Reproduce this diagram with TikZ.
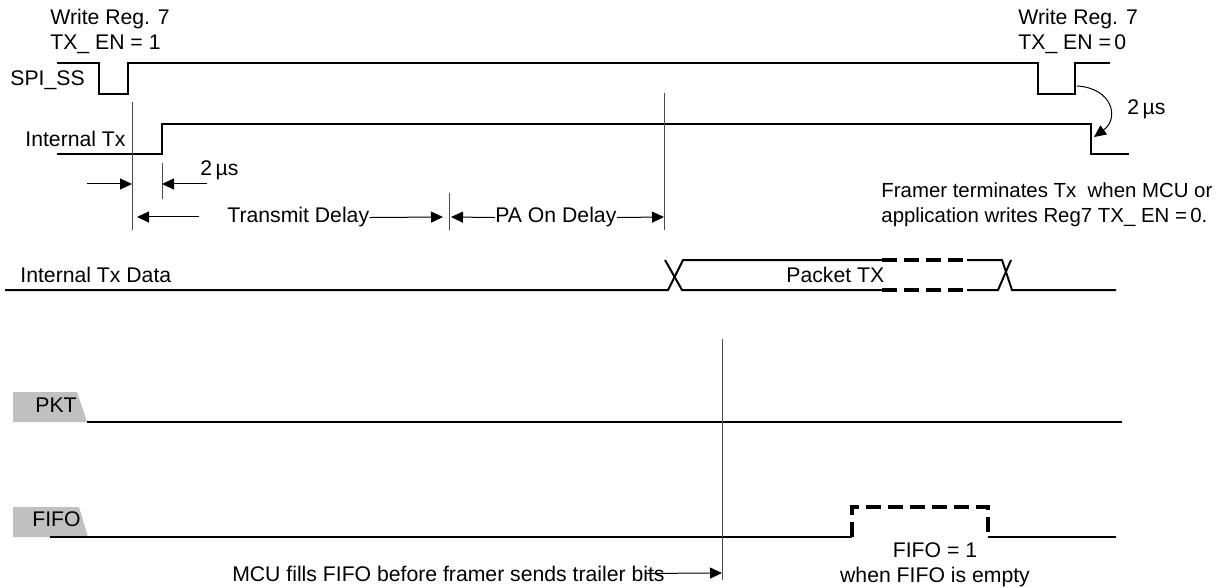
\documentclass[tikz,border=0pt]{standalone}
\usepackage{fontspec}
\setmainfont{Liberation Sans}
\usetikzlibrary{arrows.meta}
\definecolor{tabgray}{RGB}{192,192,192}
\tikzset{
	sig/.style={line width=1pt},
	ghost/.style={line width=1.6pt, dash pattern=on 7.5pt off 3.5pt},
	guide/.style={line width=0.5pt, draw=black!70},
	dim/.style={line width=0.5pt, -{Triangle[length=6pt,width=5.5pt]}},
	lbl/.style={inner sep=0pt, font=\fontsize{10.6}{12.5}\selectfont},
}

\begin{document}
\begin{tikzpicture}[x=0.5pt,y=-0.5pt]
	\useasboundingbox (0,0) rectangle (1225,588);
	
	\coordinate (g1t) at (132,102);
	\coordinate (g1b) at (132,230);
	\coordinate (g2t) at (162,163);
	\coordinate (g2b) at (162,199);
	\coordinate (g3t) at (449,193);
	\coordinate (g3b) at (449,230);
	\coordinate (g4t) at (664,93);
	\coordinate (g4b) at (664,230);
	\coordinate (g5t) at (722,339);
	\coordinate (g5b) at (722,580);
	
	\coordinate (us1l) at (87,184);
	\coordinate (us1a) at (132,184);
	\coordinate (us1r) at (207,184);
	\coordinate (us1b) at (162,184);
	\coordinate (txdl) at (199,217);
	\coordinate (txda) at (137,217);
	\coordinate (txdb) at (443,217);
	\coordinate (pada) at (451,217);
	\coordinate (padb) at (664,217);
	\coordinate (ssup) at (1077,86);
	\coordinate (txoff) at (1094,137);
	\coordinate (mcub) at (722,573);
	
	% tabs
	\fill[tabgray] (13,392) -- (77,392) -- (87,422) -- (13,422) -- cycle;
	\fill[tabgray] (13,507) -- (79,507) -- (88,537) -- (13,537) -- cycle;
	
	% labels
	\node[lbl, anchor=north west, align=left] (wr1) at (50,9) {Write Reg. 7\\TX\_ EN = 1};
	\node[lbl, anchor=north west, align=left] (wr0) at (1018,9) {Write Reg. 7\\TX\_ EN =\,0};
	\node[lbl, anchor=base west] (spi) at (10,86) {SPI\_SS};
	\node[lbl, anchor=base west] (itx) at (25,147) {Internal Tx};
	\node[lbl, anchor=base west] (us1) at (200,176) {2\,µs};
	\node[lbl, anchor=base west] (us2) at (1127,115) {2\,µs};
	\node[lbl, anchor=north west, align=left, font=\fontsize{10.2}{12.5}\selectfont] (frm) at (881,182) {Framer terminates Tx~~when MCU or\\application writes Reg7 TX\_ EN =\,0.};
	\node[lbl, anchor=base west] (txd) at (227,223) {Transmit Delay};
	\node[lbl, anchor=base west] (pad) at (495,223) {PA On Delay};
	\node[lbl, anchor=base west] (itd) at (20,282) {Internal Tx Data};
	\node[lbl, anchor=base west] (pkt) at (786,282) {Packet TX};
	\node[lbl, anchor=base west] (pkn) at (35,412) {PKT};
	\node[lbl, anchor=base west] (ffn) at (32,526) {FIFO};
	\node[lbl, anchor=north, align=center] (ff1) at (935,542) {FIFO = 1\\when FIFO is empty};
	\node[lbl, anchor=base east] (mcu) at (665,581) {MCU fills FIFO before framer sends trailer bits};
	
	% waveforms
	\draw[sig] (57,63) -- (99,63) -- (99,94) -- (128,94) -- (128,63) -- (1038,63) -- (1038,94) -- (1075,94) -- (1075,63) -- (1110,63);
	\draw[sig] (57,154) -- (162,154) -- (162,124) -- (1091,124) -- (1091,154) -- (1129,154);
	
	\draw[sig] (5,290) -- (668,290) -- (683,260) -- (882,260);
	\draw[sig] (665,260) -- (682,290) -- (882,290);
	\draw[ghost] (882,260) -- (967,260);
	\draw[ghost] (882,290) -- (967,290);
	\draw[sig] (967,260) -- (1002,260) -- (1012,290) -- (1116,290);
	\draw[sig] (967,290) -- (998,290) -- (1011,260);
	
	\draw[sig] (87,422) -- (1122,422);
	\draw[sig] (50,537) -- (852,537);
	\draw[ghost] (852,537) -- (852,507) -- (988,507) -- (988,537);
	\draw[sig] (988,537) -- (1116,537);
	
	% guides
	\draw[guide] (g1t) -- (g1b);
	\draw[guide] (g2t) -- (g2b);
	\draw[guide] (g3t) -- (g3b);
	\draw[guide] (g4t) -- (g4b);
	\draw[guide] (g5t) -- (g5b);
	
	% delays
	\draw[dim] (us1l) -- (us1a);
	\draw[dim] (us1r) -- (us1b);
	\draw[dim] (txdl) -- (txda);
	\draw[dim] (txd.east) -- (txdb);
	\draw[dim] (pad.west) -- (pada);
	\draw[dim] (pad.east) -- (padb);
	\draw[dim] (ssup) .. controls (1112,88) and (1120,118) .. (txoff);
	\draw[dim] ([xshift=-10pt]mcu.east) -- (mcub);
\end{tikzpicture}
\end{document}
